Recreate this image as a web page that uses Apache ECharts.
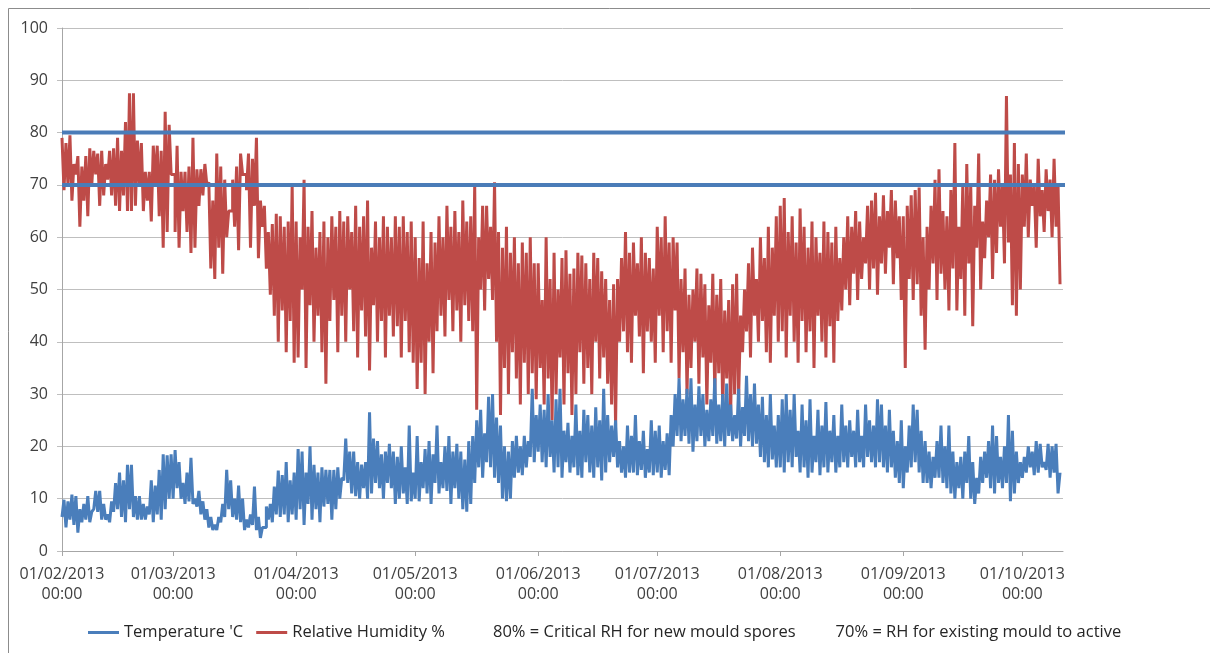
<!DOCTYPE html>
<html>
<head>
<meta charset="utf-8">
<script src="https://cdn.jsdelivr.net/npm/echarts@6/dist/echarts.min.js"></script>
<style>html,body{margin:0;padding:0;background:#fff;}#c{width:1210px;height:653px;}</style>
</head>
<body>
<div id="c"></div>
<script>
// Daily readings from 01/02/2013 to 10/10/2013 (Feb..Oct)
const tempHigh = [
  // Feb
  9.8, 9.5, 10.8, 10.5, 8, 9, 10.5, 7.5, 11.5, 11.5, 9, 7, 9.5, 13, 15, 13.5, 16.5, 16.5, 10.5, 10.5, 9, 8.5, 13.5, 12.5, 15.5, 18.5, 18.3, 18.5,
  // Mar
  19.3, 17, 13, 15, 17.8, 10, 11.5, 9.5, 8, 6.5, 5, 6.5, 9, 15.5, 13.5, 10, 12.5, 10, 6, 7, 12.3, 6.5, 4.5, 8.5, 9, 12.3, 15.4, 14.5, 17, 13.5, 15,
  // Apr
  19.5, 19, 15, 20, 16.5, 15, 16, 15.5, 15.5, 15.5, 16, 14, 21.5, 19, 19, 17, 16.5, 17, 26.5, 21.5, 21, 18.5, 19, 20.5, 19, 18, 20, 16, 24, 15,
  // May
  22, 17, 19.5, 21, 18.5, 24, 17, 20, 22, 19, 20.5, 19, 17.5, 21, 22, 25, 27, 22.5, 29.5, 30, 25.5, 24, 20, 19, 21, 22, 20, 22, 21, 31, 26,
  // Jun
  28, 27, 30, 25, 29, 31, 23, 24.5, 22, 28, 23, 27, 26, 24, 27.5, 25, 31, 26, 24, 25, 21, 20, 24, 22, 26, 21, 23, 19.5, 25, 23,
  // Jul
  24, 21, 22.5, 26, 30, 33, 29, 31, 33, 28, 31.5, 30, 27, 29, 33, 28, 30, 32, 28, 26, 31, 27.5, 33.5, 30, 32, 28, 29.5, 26, 30, 24, 26,
  // Aug
  29, 30, 27, 30, 23, 28, 25, 29, 22, 27, 24, 28.5, 23, 26, 22, 28, 24, 25, 23, 27, 22, 28, 25, 24, 29, 28, 24, 27, 23, 21, 25,
  // Sep
  20, 24, 28, 27, 23, 21, 19, 18, 21, 24, 20, 24, 19, 17, 18, 19, 22, 17, 14, 18, 19, 21, 24, 22, 18, 20, 26, 23, 19, 17,
  // Oct
  18, 20, 19, 21, 20.5, 17, 20.5, 20, 20.5, 15
];
const tempLow = [
  // Feb
  6.5, 4.5, 6, 5, 3.5, 5.5, 6, 5.5, 8, 7.5, 6, 6, 5.5, 7.5, 8, 6.5, 5.5, 8, 6.5, 6, 6, 6, 7, 5.5, 7, 6, 8, 10,
  // Mar
  10, 12, 10, 9, 9.5, 9, 8.5, 7, 6, 4.5, 4, 4, 5.5, 6.5, 8, 6.5, 6, 5.5, 4, 4.5, 5, 4, 2.5, 4.5, 6, 5.5, 7, 6.5, 7, 5.5, 7,
  // Apr
  6, 8, 5, 9, 6, 8, 5.5, 8.5, 9, 6, 8, 10, 13.5, 13, 11, 10.5, 10, 12, 10, 11, 13, 12, 10, 13, 12, 9, 10, 11, 9, 9.5,
  // May
  10, 9.5, 12, 11, 9, 13, 11, 12, 11.5, 9, 12, 10, 8, 7.5, 9, 13, 16, 14, 17, 16, 14, 13, 10, 9.5, 10, 14, 15, 14.5, 16, 18, 17,
  // Jun
  19, 17, 16, 18, 15, 16, 14, 17, 15, 16, 14.5, 14, 17, 15, 14, 16, 13.5, 15, 17, 18, 16, 15, 14, 15, 15, 14.5, 15.5, 14, 15, 14.5,
  // Jul
  15, 14, 15.5, 14.5, 20, 22, 21, 22, 20.5, 19, 21, 22, 20, 21, 22, 20.5, 21, 20, 22, 21, 21.5, 20, 22, 21, 20, 20.5, 18, 17, 16, 17.5, 16,
  // Aug
  16, 15, 17, 16, 18, 15, 16, 14, 15, 17, 14.5, 16, 15, 17, 15, 16, 17, 16, 18, 16, 17, 16, 18, 17, 16, 17, 16, 15, 16, 14, 13,
  // Sep
  12, 15, 16, 17, 15, 13, 13, 12, 14, 14, 13, 12, 11, 10, 12, 10, 13, 10, 9, 11, 13, 14, 12, 11, 13, 12, 13, 9.5, 11, 13,
  // Oct
  14, 15, 16, 14.5, 15, 16, 15.5, 14, 15, 11
];
const rhHigh = [
  // Feb
  79, 78, 79.5, 74, 75.5, 73.5, 75.5, 77, 76.5, 76, 76.5, 74, 76.5, 77, 79, 76.5, 82, 87.5, 87.5, 78.5, 78, 72.5, 72.5, 77.5, 77.5, 76.5, 84, 81.5,
  // Mar
  72, 77.5, 72.5, 72.5, 73.5, 79, 73, 73, 74, 70.5, 67, 76, 73.5, 71, 65, 71, 73.5, 76, 72, 76, 75, 79, 67, 66, 61, 62.5, 64.5, 64, 62, 63, 70,
  // Apr
  63, 60, 71, 62, 65, 58, 61, 63, 60, 64, 62, 65, 63, 64, 61, 66, 62, 64, 67, 58, 63, 60, 64, 62, 60, 64, 62, 64, 61, 63,
  // May
  60, 56, 63, 55, 61, 59, 64, 60, 66, 62, 65, 61, 67, 63, 64, 70, 60, 66, 66, 62, 70.5, 61, 58, 62, 57, 60, 55, 59, 57, 60, 55,
  // Jun
  55, 48, 60, 52, 57, 50, 56, 57.5, 53, 54, 57, 56.5, 55, 52, 57, 56, 53.5, 52, 48, 51, 52, 56, 61, 57, 59, 55, 60, 57, 56, 54,
  // Jul
  62, 60, 64, 59, 60, 59, 52, 54, 49, 50, 54, 53, 51, 47, 53, 49, 52, 46, 48, 51, 53, 45, 50, 55, 58, 52, 60, 56, 62, 58, 64,
  // Aug
  66, 67.5, 61, 64, 59, 65.5, 62, 58, 63, 60, 57, 63, 61, 59, 62, 56, 60, 64, 62, 65, 63, 60, 66, 67, 68.5, 64, 68, 65, 69, 67, 64,
  // Sep
  64, 66, 68, 69, 69.5, 60, 62, 66, 71, 73, 65, 64, 69, 78, 62, 70, 74, 70, 66, 76, 63, 67, 72, 71, 73, 70, 87, 72, 78, 74,
  // Oct
  72, 76, 71, 70, 75, 69, 73, 71, 75, 70
];
const rhLow = [
  // Feb
  69, 70, 67, 72, 62, 67, 64, 70, 72, 66, 68, 71, 68, 66, 65, 68, 65, 65, 66, 70, 65, 67, 63, 70, 64, 58, 61, 72,
  // Mar
  61, 58, 65, 61, 57, 58, 66, 68, 70, 54, 52, 58, 53, 60, 65, 62, 57.5, 72, 69, 58, 66, 56, 62, 54, 49, 45, 40, 46, 38, 44, 36,
  // Apr
  37, 50, 35, 47, 40, 45, 38, 32, 44, 48, 38, 45, 40, 50, 42, 37, 46, 41, 34.5, 47, 40, 44, 37, 45, 41, 43, 37, 44, 38, 36,
  // May
  31, 36, 30, 40, 34, 42, 45, 41, 48, 42, 46, 40, 47, 44, 42, 27, 50, 46, 52, 48, 40, 26, 35, 30, 38, 33, 28, 36, 30, 34, 29,
  // Jun
  35, 28, 33, 25, 30, 37, 28, 34, 26, 30, 38, 32, 35, 30, 40, 33, 37, 32, 28, 24, 40, 42, 38, 36, 45, 41, 34, 42, 40, 36,
  // Jul
  45, 38, 42, 36, 46, 33, 38, 30, 35, 40, 32, 37, 28, 36, 30, 34, 27, 33, 26, 30, 29, 38, 42, 37, 45, 40, 44, 38, 36, 45, 40,
  // Aug
  42, 37, 45, 40, 36, 44, 38, 42, 35, 45, 40, 37, 43, 36, 44, 46, 50, 47, 53, 48, 52, 55, 50, 54, 49, 55, 53, 58, 51, 56, 48,
  // Sep
  35, 52, 48, 51, 45, 38.5, 50, 55, 48, 53, 50, 46, 54, 46, 52, 45, 55, 43, 58, 50, 56, 60, 52, 57, 62, 55, 59, 47, 45, 50,
  // Oct
  62, 60, 66, 58, 64, 61, 65, 60, 62, 51
];
const thresholds = [80, 70];
const thresholdNames = ['80% = Critical RH for new mould spores', '70% = RH for existing mould to active'];
const seriesNames = ["Temperature 'C", 'Relative Humidity %'];
const yTicks = { min: 0, max: 100, interval: 10 };

const startDate = new Date(2013, 1, 1).getTime();
const endDate = new Date(2013, 9, 11, 6).getTime();
const lineEnd = new Date(2013, 9, 15).getTime();

const tempData = [], rhData = [];
for (let i = 0; i < tempHigh.length; i++) {
  const t0 = new Date(2013, 1, 1 + i, 0).getTime();
  const t1 = new Date(2013, 1, 1 + i, 12).getTime();
  tempData.push([t0, tempLow[i]], [t1, tempHigh[i]]);
  rhData.push([t0, rhHigh[i]], [t1, rhLow[i]]);
}

function pad(n) { return (n < 10 ? '0' : '') + n; }
function fmt(v) {
  const d = new Date(v);
  return pad(d.getDate()) + '/' + pad(d.getMonth() + 1) + '/' + d.getFullYear() + '\n' + pad(d.getHours()) + ':' + pad(d.getMinutes());
}

const FONT = 'Open Sans';
const chart = echarts.init(document.getElementById('c'), null, { renderer: 'canvas' });
chart.setOption({
  animation: false,
  backgroundColor: '#ffffff',
  textStyle: { fontFamily: FONT },
  graphic: [{
    type: 'rect', silent: true, z: -10,
    shape: { x: 8.5, y: 8.5, width: 1300, height: 800 },
    style: { fill: 'none', stroke: '#8c8c8c', lineWidth: 1 }
  }],
  grid: { left: 62, right: 147, top: 28, bottom: 102 },
  xAxis: {
    type: 'time',
    min: startDate, max: endDate,
    minInterval: 28 * 86400000, maxInterval: 31 * 86400000,
    axisLine: { lineStyle: { color: '#a6a6a6', width: 1 } },
    axisTick: { show: true, length: 5, lineStyle: { color: '#a6a6a6' } },
    splitLine: { show: false },
    axisLabel: {
      formatter: fmt, fontSize: 16, color: '#404040', fontFamily: FONT,
      lineHeight: 20, margin: 13, hideOverlap: false, showMinLabel: true
    }
  },
  yAxis: {
    type: 'value', min: yTicks.min, max: yTicks.max, interval: yTicks.interval,
    axisLine: { show: true, lineStyle: { color: '#a6a6a6' } },
    axisTick: { show: true, length: 5, lineStyle: { color: '#bfbfbf' } },
    splitLine: { lineStyle: { color: '#bfbfbf', width: 1 } },
    axisLabel: { fontSize: 16, color: '#404040', fontFamily: FONT, margin: 14 }
  },
  legend: [{
    data: seriesNames.map(n => ({ name: n, icon: 'rect' })),
    left: 88, top: 624, padding: 0, itemWidth: 31, itemHeight: 3, itemGap: 13,
    textStyle: { fontSize: 16.5, color: '#262626', fontFamily: FONT },
    selectedMode: false
  }, {
    data: thresholdNames.map(n => ({ name: n, icon: 'none' })),
    left: 487, top: 624, padding: 0, itemWidth: 1, itemHeight: 3, itemGap: 34,
    textStyle: { fontSize: 16.5, color: '#262626', fontFamily: FONT },
    selectedMode: false
  }],
  series: [
    {
      name: seriesNames[1], type: 'line', data: rhData, step: 'end',
      showSymbol: false, symbol: 'none', z: 2,
      lineStyle: { color: '#be4b48', width: 3 }, itemStyle: { color: '#be4b48' }
    },
    {
      name: seriesNames[0], type: 'line', data: tempData, step: 'end',
      showSymbol: false, symbol: 'none', z: 3,
      lineStyle: { color: '#4a7ebb', width: 3 }, itemStyle: { color: '#4a7ebb' }
    },
    ...thresholds.map((v, k) => ({
      name: thresholdNames[k], type: 'line', clip: false,
      data: [[startDate, v], [lineEnd, v]],
      showSymbol: false, symbol: 'none', z: 4,
      lineStyle: { color: '#4a7cb8', width: 4 }, itemStyle: { color: '#4a7cb8' }
    }))
  ]
});
</script>
</body>
</html>
